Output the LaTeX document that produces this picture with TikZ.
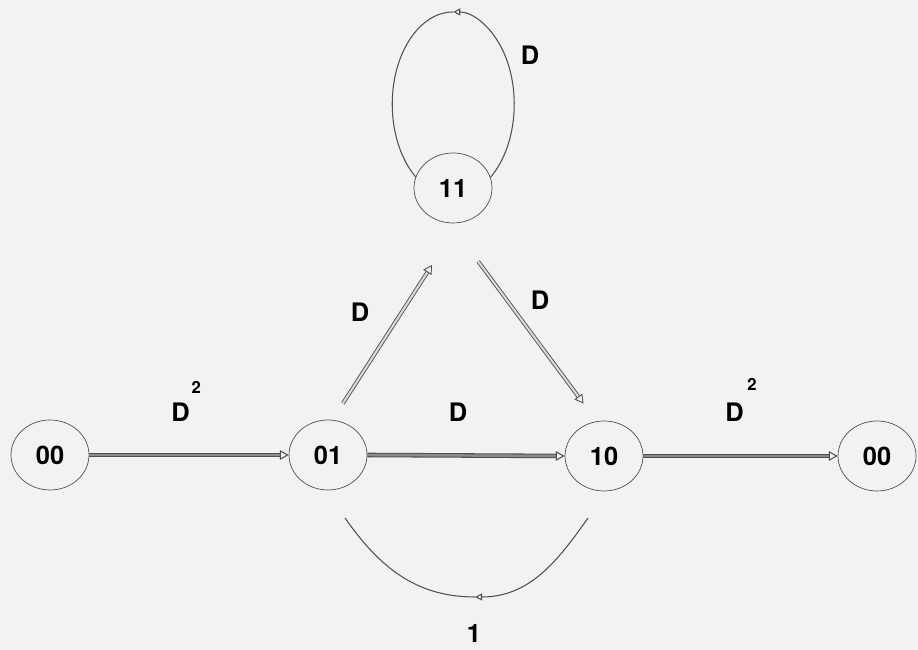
\documentclass[tikz,border=0pt]{standalone}
\usepackage{fontspec}
\setmainfont{TeX Gyre Heros}
\usetikzlibrary{calc,arrows.meta,shapes.geometric}
\definecolor{paper}{RGB}{242,242,242}
\definecolor{ink}{RGB}{80,80,80}
\tikzset{
  st/.style={draw=ink,ellipse,minimum width=1.56cm,minimum height=1.4cm,inner sep=0pt,font=\fontsize{14.5}{17}\selectfont\bfseries},
  lab/.style={font=\fontsize{14.5}{17}\selectfont\bfseries},
  tr/.style={draw=ink,double=gray!90,double distance=1.4pt,line width=0.6pt,-{Triangle[open,length=5pt,width=5.5pt]}},
  trd/.style={draw=ink,double=gray!30,double distance=1.2pt,line width=0.5pt,-{Triangle[open,length=5pt,width=5.5pt]}},
  lp/.style={draw=ink,line width=0.6pt},
}
\newcommand{\sqr}{\raisebox{16pt}{\fontsize{9.5}{11}\selectfont\bfseries 2}}
\begin{document}
\begin{tikzpicture}[>={Triangle[open,length=4pt,width=4pt]}]
			\fill[paper] (0,0) rectangle (18.36,13);
			\useasboundingbox (0,0) rectangle (18.36,13);
			
			\node[st] (s1) at (1.0,3.9) {00};
			\node[st] (s2) at (6.56,3.9) {01};
			\node[st] (s3) at (12.08,3.88) {10};
			\node[st] (s4) at (9.06,9.24) {11};
			\node[st] (s5) at (17.54,3.88) {00};
			
			\draw[tr] (s1.east) -- (s2.west);
			\draw[tr] (s2.east) -- (s3.west);
			\draw[tr] (s3.east) -- (s5.west);
			\draw[trd,shorten <=0.39cm,shorten >=1.0cm] (s2.83) -- (s4.-80);
			\draw[trd,shorten <=0.95cm,shorten >=0.44cm] (s4.-95) -- (s3.102);
			
			% loop on 11
			\draw[lp,->] (s4.16) arc[start angle=-52.35,end angle=90,x radius=1.22,y radius=1.845] coordinate (top);
			\draw[lp] (top) arc[start angle=90,end angle=232.35,x radius=1.22,y radius=1.845];
			
			% arc under 01 and 10
			\coordinate (u1) at (11.76,2.64);
			\coordinate (u0) at (9.5,1.06);
			\coordinate (u2) at (6.9,2.64);
			\draw[lp,->] (u1) to[out=-125,in=0] (u0);
			\draw[lp] (u0) to[out=180,in=-55] (u2);
			
			\node[lab] (t1) at (10.6,11.9) {D};
			\node[lab] (t2) at (7.2,6.76) {D};
			\node[lab] (t3) at (10.8,7.0) {D};
			\node[lab] (t4) at (9.16,4.76) {D};
			\node[lab,anchor=base west,inner sep=0pt] (t5) at (3.42,4.56) {D\hspace{1pt}\sqr};
			\node[lab,anchor=base west,inner sep=0pt] (t6) at (14.5,4.56) {D\hspace{2pt}\raisebox{2pt}{\sqr}};
			\node[lab] (t7) at (9.48,0.34) {1};
		\end{tikzpicture}
\end{document}
